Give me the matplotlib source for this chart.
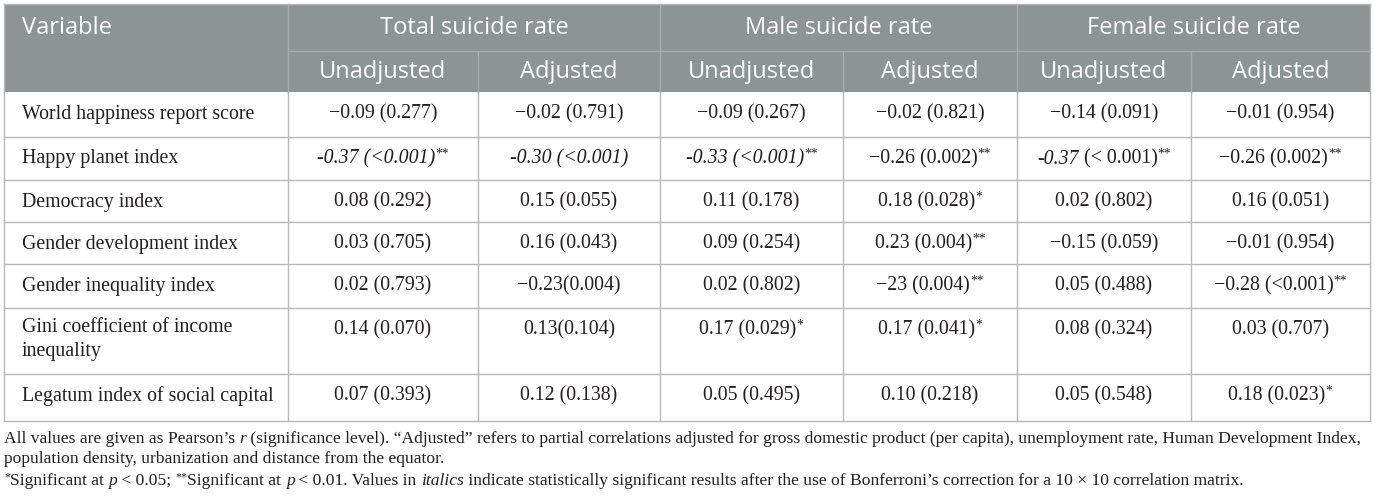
import matplotlib
matplotlib.use('Agg')
import matplotlib.pyplot as plt

groups = ['Total suicide rate', 'Male suicide rate', 'Female suicide rate']
subheads = ['Unadjusted', 'Adjusted']
variables = ['World happiness report score', 'Happy planet index', 'Democracy index',
             'Gender development index', 'Gender inequality index',
             'Gini coefficient of income\ninequality', 'Legatum index of social capital']

# cell strings per column (stars are drawn as superscripts)
total_unadj = ['−0.09 (0.277)', '-0.37 (<0.001)**', '0.08 (0.292)', '0.03 (0.705)',
               '0.02 (0.793)', '0.14 (0.070)', '0.07 (0.393)']
total_adj = ['−0.02 (0.791)', '-0.30 (<0.001)', '0.15 (0.055)', '0.16 (0.043)',
             '−0.23(0.004)', '0.13(0.104)', '0.12 (0.138)']
male_unadj = ['−0.09 (0.267)', '-0.33 (<0.001)**', '0.11 (0.178)', '0.09 (0.254)',
              '0.02 (0.802)', '0.17 (0.029)*', '0.05 (0.495)']
male_adj = ['−0.02 (0.821)', '−0.26 (0.002)**', '0.18 (0.028)*', '0.23 (0.004)**',
            '−23 (0.004)**', '0.17 (0.041)*', '0.10 (0.218)']
female_unadj = ['−0.14 (0.091)', '-0.37 (< 0.001)**', '0.02 (0.802)', '−0.15 (0.059)',
                '0.05 (0.488)', '0.08 (0.324)', '0.05 (0.548)']
female_adj = ['−0.01 (0.954)', '−0.26 (0.002)**', '0.16 (0.051)', '−0.01 (0.954)',
              '−0.28 (<0.001)**', '0.03 (0.707)', '0.18 (0.023)*']
columns = [total_unadj, total_adj, male_unadj, male_adj, female_unadj, female_adj]

# (row, col) -> which part is italic: 'all' or 'r' (only the coefficient)
italic_cells = {(1, 0): 'all', (1, 1): 'all', (1, 2): 'all', (1, 4): 'r'}

note1 = [("All values are given as Pearson’s ", ''), ('r', 'i'),
         (" (significance level). “Adjusted” refers to partial correlations adjusted for gross domestic product (per capita), unemployment rate, Human Development Index,", '')]
note2 = [("population density, urbanization and distance from the equator.", '')]
note3 = [('*', 's'), ('Significant at ', ''), ('p', 'i'), (' < 0.05; ', ''), ('**', 's'),
         ('Significant at ', ''), ('p', 'i'), (' < 0.01. Values in ', ''), ('italics', 'i'),
         (' indicate statistically significant results after the use of Bonferroni’s correction for a 10 × 10 correlation matrix.', '')]

W, H = 1375, 500
fig = plt.figure(figsize=(W / 100, H / 100), dpi=100)
ax = fig.add_axes([0, 0, 1, 1])
ax.set_xlim(0, W)
ax.set_ylim(H, 0)
ax.axis('off')
fig.canvas.draw()
renderer = fig.canvas.get_renderer()

SERIF = 'Liberation Serif'
SANS = 'Open Sans'
HEAD_BG = '#8d9496'
HEAD_LINE = '#a6abad'
GRID = '#b8b8b8'
INK = '#231f20'

col_x = [4, 288, 478, 660, 843, 1017, 1191, 1370]
top, mid, hbot = 4, 51, 92
row_h = [45, 43, 42, 42, 44, 66, 47]
row_y = [hbot]
for h in row_h:
    row_y.append(row_y[-1] + h)


def draw_segments(segs, x, y, size, align='center'):
    # segs: list of (text, style) with style '', 'i' italic, 's' superscript
    widths = []
    arts = []
    for txt, st in segs:
        fs = size * 0.68 if st == 's' else size
        t = ax.text(0, y, txt, fontsize=fs, family=SERIF,
                    style='italic' if st == 'i' else 'normal', va='center', ha='left',
                    color=INK)
        widths.append(t.get_window_extent(renderer).width)
        arts.append((t, st))
    total = sum(widths)
    cx = x - total / 2 if align == 'center' else x
    for (t, st), w in zip(arts, widths):
        t.set_x(cx)
        if st == 's':
            t.set_y(y - size * 0.32)
        cx += w


def cell_segments(s, mode):
    stars = ''
    while s.endswith('*'):
        stars += '*'
        s = s[:-1]
    if mode == 'all':
        segs = [(s, 'i')]
    elif mode == 'r':
        a, b = s.split(' ', 1)
        segs = [(a, 'i'), (' ' + b, '')]
    else:
        segs = [(s, '')]
    if stars:
        segs.append((stars, 's'))
    return segs


# header background
ax.fill_between([col_x[0], col_x[-1]], top, hbot, color=HEAD_BG, lw=0)
ax.plot([col_x[1], col_x[-1]], [mid, mid], color=HEAD_LINE, lw=1)
for i, x in enumerate(col_x[1:-1], start=1):
    y0 = top if i % 2 == 1 else mid
    ax.plot([x, x], [y0, hbot], color=HEAD_LINE, lw=1)

hs = 17
ax.text(col_x[0] + 18, (top + mid) / 2, 'Variable', fontsize=hs, family=SANS,
        color='white', va='center', ha='left')
for g, name in enumerate(groups):
    cx = (col_x[1 + 2 * g] + col_x[3 + 2 * g]) / 2
    ax.text(cx, (top + mid) / 2, name, fontsize=hs, family=SANS, color='white',
            va='center', ha='center')
for j in range(6):
    cx = (col_x[1 + j] + col_x[2 + j]) / 2
    ax.text(cx, (mid + hbot) / 2 + 1, subheads[j % 2], fontsize=hs, family=SANS,
            color='white', va='center', ha='center')

# body grid
for y in row_y[1:]:
    ax.plot([col_x[0], col_x[-1]], [y, y], color=GRID, lw=1)
for x in col_x:
    ax.plot([x, x], [hbot, row_y[-1]], color=GRID, lw=1)
ax.plot([col_x[0], col_x[0]], [top, hbot], color=GRID, lw=1)
ax.plot([col_x[-1], col_x[-1]], [top, hbot], color=GRID, lw=1)
ax.plot([col_x[0], col_x[-1]], [top, top], color=GRID, lw=1)

bs = 14.3
for r, name in enumerate(variables):
    yc = row_y[r] + 22
    if '\n' in name:
        ax.text(col_x[0] + 18, yc - 12, name, fontsize=bs, family=SERIF, color=INK,
                va='top', ha='left', linespacing=1.35)
    else:
        ax.text(col_x[0] + 18, yc, name, fontsize=bs, family=SERIF, color=INK,
                va='center', ha='left')
    for c, col in enumerate(columns):
        cx = (col_x[1 + c] + col_x[2 + c]) / 2
        draw_segments(cell_segments(col[r], italic_cells.get((r, c), '')), cx, yc, bs)

fs = 12.6
draw_segments(note1, 4, 439, fs, align='left')
draw_segments(note2, 4, 459, fs, align='left')
draw_segments(note3, 4, 481, fs, align='left')

fig.savefig('out.png', dpi=100)
